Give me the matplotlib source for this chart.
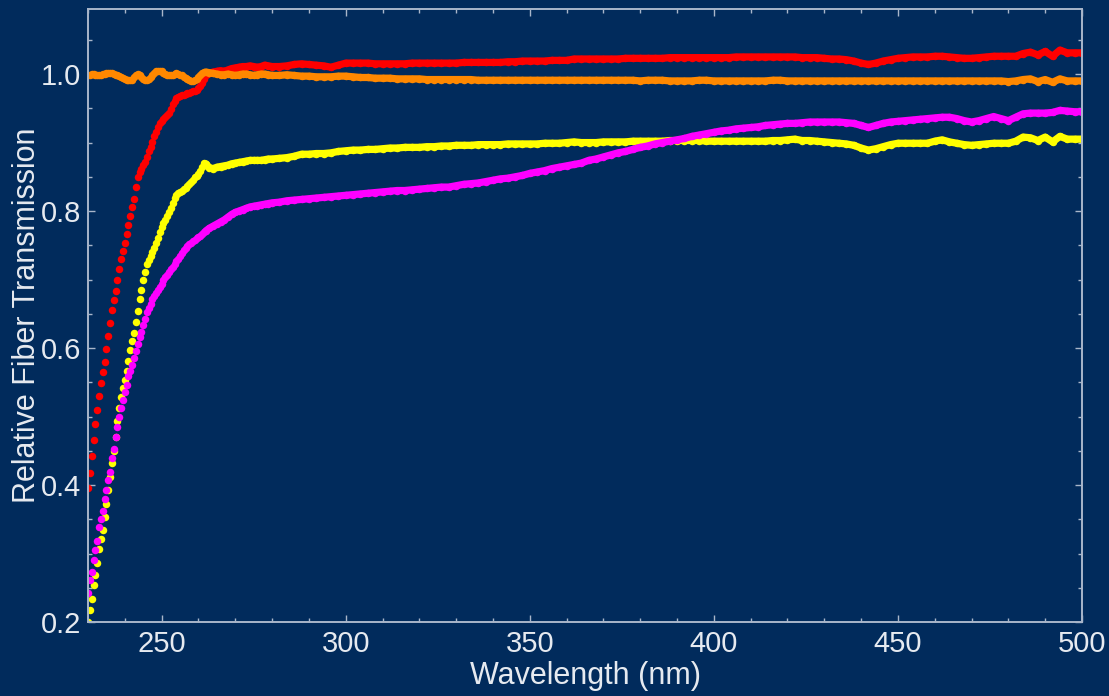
import numpy as np
import matplotlib
matplotlib.use("Agg")
import matplotlib.pyplot as plt
from matplotlib.ticker import MultipleLocator, FormatStrFormatter

# Wavelength sampling: 0.5 nm through the UV edge, then 1 nm, then 2 nm
wl_edge = np.arange(230.0, 262.01, 0.5)
wl_mid = np.arange(263.0, 280.01, 1.0)
wl_tail = np.arange(282.0, 500.01, 2.0)
wavelength = np.concatenate([wl_edge, wl_mid, wl_tail])

red = [
    0.395, 0.418, 0.442, 0.466, 0.489, 0.510, 0.530, 0.549, 0.565, 0.580,
    0.598, 0.618, 0.636, 0.655, 0.670, 0.684, 0.700, 0.715, 0.730, 0.741,
    0.753, 0.767, 0.780, 0.793, 0.806, 0.818, 0.835, 0.850, 0.857, 0.862,
    0.867, 0.872, 0.879, 0.887, 0.894, 0.901, 0.909, 0.916, 0.922, 0.928,
    0.932, 0.935, 0.938, 0.940, 0.943, 0.949, 0.956, 0.961, 0.965, 0.967,
    0.968, 0.969, 0.970, 0.971, 0.972, 0.973, 0.974, 0.975, 0.976, 0.977,
    0.979, 0.982, 0.987, 0.993, 0.998,
    1.001, 1.003, 1.004, 1.005, 1.004, 1.006, 1.008, 1.009, 1.010, 1.011,
    1.011, 1.012, 1.011, 1.010, 1.011, 1.013, 1.012, 1.011,
    1.011, 1.012, 1.014, 1.015, 1.014, 1.013, 1.012, 1.010, 1.013, 1.016,
    1.016, 1.016, 1.016, 1.015, 1.015, 1.015, 1.015, 1.015, 1.016, 1.016,
    1.016, 1.016, 1.016, 1.016, 1.016, 1.017, 1.017, 1.017, 1.017, 1.017,
    1.017, 1.018, 1.018, 1.019, 1.019, 1.019, 1.019, 1.020, 1.020, 1.020,
    1.022, 1.022, 1.022, 1.022, 1.022, 1.022, 1.022, 1.023, 1.023, 1.023,
    1.023, 1.023, 1.023, 1.024, 1.024, 1.024, 1.024, 1.024, 1.024, 1.024,
    1.024, 1.024, 1.025, 1.025, 1.025, 1.025, 1.025, 1.025, 1.025, 1.025,
    1.025, 1.024, 1.024, 1.024, 1.023, 1.022, 1.022, 1.021, 1.019, 1.016,
    1.014, 1.016, 1.019, 1.021, 1.023, 1.024, 1.025, 1.025, 1.025, 1.026,
    1.026, 1.025, 1.024, 1.023, 1.023, 1.024, 1.025, 1.026, 1.026, 1.026,
    1.026, 1.030, 1.032, 1.028, 1.033, 1.026, 1.035, 1.031, 1.031, 1.031,
]

orange = [
    0.999, 0.999, 1.000, 1.000, 0.999, 0.998, 0.998, 0.999, 1.000, 1.000,
    1.001, 1.001, 1.001, 1.001, 1.000, 0.999, 0.998, 0.997, 0.996, 0.994,
    0.993, 0.992, 0.991, 0.991, 0.992, 0.995, 0.998, 1.000, 0.999, 0.996,
    0.993, 0.991, 0.991, 0.993, 0.996, 0.999, 1.002, 1.004, 1.005, 1.005,
    1.004, 1.002, 1.000, 0.999, 0.998, 0.998, 0.999, 1.000, 1.001, 1.000,
    0.999, 0.998, 0.996, 0.994, 0.993, 0.991, 0.990, 0.990, 0.991, 0.993,
    0.996, 0.999, 1.001, 1.003, 1.003,
    1.002, 1.001, 1.000, 0.999, 0.999, 1.000, 0.999, 0.998, 0.999, 1.000,
    1.000, 0.999, 0.998, 0.999, 1.000, 1.000, 0.999, 0.998,
    0.998, 0.999, 0.998, 0.997, 0.997, 0.996, 0.996, 0.996, 0.997, 0.997,
    0.996, 0.995, 0.995, 0.994, 0.994, 0.994, 0.993, 0.993, 0.993, 0.993,
    0.992, 0.992, 0.992, 0.992, 0.992, 0.992, 0.992, 0.991, 0.991, 0.991,
    0.991, 0.991, 0.991, 0.991, 0.991, 0.991, 0.991, 0.991, 0.991, 0.991,
    0.991, 0.991, 0.991, 0.991, 0.991, 0.991, 0.991, 0.991, 0.991, 0.990,
    0.991, 0.991, 0.991, 0.990, 0.990, 0.990, 0.990, 0.991, 0.991, 0.990,
    0.990, 0.990, 0.990, 0.990, 0.990, 0.990, 0.990, 0.991, 0.991, 0.990,
    0.990, 0.990, 0.990, 0.990, 0.990, 0.990, 0.990, 0.990, 0.990, 0.990,
    0.990, 0.990, 0.990, 0.990, 0.990, 0.990, 0.990, 0.990, 0.990, 0.990,
    0.990, 0.990, 0.990, 0.990, 0.990, 0.990, 0.990, 0.990, 0.990, 0.989,
    0.990, 0.992, 0.993, 0.989, 0.992, 0.988, 0.993, 0.990, 0.990, 0.990,
]

yellow = [
    0.200, 0.218, 0.234, 0.254, 0.268, 0.286, 0.306, 0.321, 0.335, 0.354,
    0.372, 0.393, 0.412, 0.432, 0.450, 0.470, 0.494, 0.512, 0.529, 0.542,
    0.554, 0.567, 0.581, 0.597, 0.610, 0.622, 0.638, 0.654, 0.671, 0.685,
    0.699, 0.711, 0.722, 0.729, 0.735, 0.740, 0.746, 0.753, 0.760, 0.769,
    0.777, 0.782, 0.787, 0.793, 0.799, 0.805, 0.812, 0.819, 0.823, 0.826,
    0.828, 0.830, 0.832, 0.834, 0.837, 0.840, 0.843, 0.846, 0.849, 0.851,
    0.854, 0.858, 0.864, 0.870, 0.869,
    0.863, 0.862, 0.864, 0.865, 0.866, 0.867, 0.869, 0.870, 0.871, 0.872,
    0.873, 0.874, 0.874, 0.874, 0.874, 0.875, 0.876, 0.876,
    0.877, 0.878, 0.880, 0.883, 0.883, 0.884, 0.884, 0.885, 0.887, 0.888,
    0.889, 0.889, 0.890, 0.890, 0.891, 0.892, 0.892, 0.893, 0.893, 0.893,
    0.894, 0.894, 0.895, 0.895, 0.896, 0.896, 0.896, 0.897, 0.897, 0.897,
    0.897, 0.898, 0.898, 0.898, 0.898, 0.898, 0.899, 0.899, 0.899, 0.900,
    0.901, 0.900, 0.900, 0.900, 0.901, 0.901, 0.901, 0.901, 0.902, 0.902,
    0.902, 0.902, 0.902, 0.903, 0.903, 0.903, 0.903, 0.903, 0.902, 0.902,
    0.902, 0.902, 0.902, 0.902, 0.902, 0.902, 0.902, 0.903, 0.903, 0.904,
    0.905, 0.903, 0.903, 0.902, 0.901, 0.900, 0.899, 0.898, 0.896, 0.892,
    0.889, 0.891, 0.894, 0.897, 0.899, 0.899, 0.899, 0.899, 0.899, 0.902,
    0.904, 0.901, 0.899, 0.897, 0.896, 0.897, 0.898, 0.899, 0.899, 0.899,
    0.902, 0.908, 0.907, 0.903, 0.908, 0.901, 0.909, 0.905, 0.905, 0.905,
]

magenta = [
    0.242, 0.261, 0.273, 0.290, 0.305, 0.318, 0.338, 0.351, 0.362, 0.379,
    0.393, 0.407, 0.419, 0.439, 0.453, 0.470, 0.484, 0.499, 0.512, 0.524,
    0.536, 0.546, 0.559, 0.567, 0.575, 0.585, 0.596, 0.606, 0.616, 0.624,
    0.633, 0.642, 0.652, 0.659, 0.665, 0.671, 0.676, 0.681, 0.685, 0.689,
    0.694, 0.699, 0.703, 0.707, 0.711, 0.715, 0.719, 0.723, 0.727, 0.730,
    0.735, 0.739, 0.743, 0.746, 0.749, 0.752, 0.754, 0.756, 0.758, 0.760,
    0.762, 0.764, 0.767, 0.769, 0.771,
    0.775, 0.778, 0.781, 0.784, 0.787, 0.791, 0.795, 0.798, 0.800, 0.802,
    0.804, 0.806, 0.807, 0.808, 0.809, 0.810, 0.811, 0.812,
    0.813, 0.815, 0.816, 0.817, 0.818, 0.819, 0.820, 0.821, 0.822, 0.823,
    0.824, 0.825, 0.826, 0.827, 0.828, 0.829, 0.830, 0.830, 0.831, 0.832,
    0.833, 0.834, 0.835, 0.835, 0.837, 0.839, 0.840, 0.841, 0.843, 0.845,
    0.847, 0.848, 0.850, 0.852, 0.855, 0.857, 0.859, 0.862, 0.864, 0.866,
    0.868, 0.870, 0.874, 0.876, 0.879, 0.882, 0.885, 0.887, 0.890, 0.893,
    0.895, 0.898, 0.900, 0.902, 0.904, 0.906, 0.909, 0.911, 0.913, 0.915,
    0.917, 0.918, 0.920, 0.921, 0.922, 0.923, 0.925, 0.926, 0.927, 0.928,
    0.928, 0.929, 0.930, 0.930, 0.930, 0.930, 0.930, 0.929, 0.928, 0.925,
    0.922, 0.925, 0.928, 0.930, 0.931, 0.932, 0.933, 0.934, 0.935, 0.936,
    0.937, 0.937, 0.935, 0.932, 0.930, 0.932, 0.935, 0.938, 0.935, 0.932,
    0.937, 0.942, 0.943, 0.943, 0.943, 0.944, 0.947, 0.946, 0.945, 0.945,
]

series = [
    (red, "#ff0000"),
    (orange, "#ff8800"),
    (yellow, "#ffff00"),
    (magenta, "#ff00ff"),
]

bg = "#012b5c"
frame = "#a9b6ca"
text_c = "#e6eaf0"

plt.rcParams["font.family"] = ["Liberation Sans", "DejaVu Sans"]

fig = plt.figure(figsize=(11.09, 6.96), dpi=100, facecolor=bg)
ax = fig.add_axes([88 / 1109, 74 / 696, 994 / 1109, 613 / 696])
ax.set_facecolor(bg)

# beyond the absorption edge the samples are sparser, so join them into a
# continuous trace of the same width as the dots
dense = wavelength >= 262
for values, color in series:
    v = np.asarray(values)
    ax.plot(wavelength[dense], v[dense], linestyle="-", linewidth=5.2,
            solid_capstyle="round", solid_joinstyle="round", color=color)
    ax.plot(wavelength, v, linestyle="none", marker="o",
            markersize=5.4, markeredgewidth=0, color=color)

ax.set_xlim(230, 500)
ax.set_ylim(0.2, 1.095)

ax.xaxis.set_major_locator(MultipleLocator(50))
ax.xaxis.set_minor_locator(MultipleLocator(10))
ax.yaxis.set_major_locator(MultipleLocator(0.2))
ax.yaxis.set_minor_locator(MultipleLocator(0.05))
ax.yaxis.set_major_formatter(FormatStrFormatter("%.1f"))

for s in ax.spines.values():
    s.set_color(frame)
    s.set_linewidth(1.4)

ax.tick_params(which="both", direction="in", top=True, right=True,
               color=frame, labelcolor=text_c, labelsize=21)
ax.tick_params(which="major", length=5, width=1.0)
ax.tick_params(which="minor", length=3, width=1.0)
ax.tick_params(axis="x", which="major", pad=6)
ax.tick_params(axis="y", which="major", pad=5)

ax.set_xlabel("Wavelength (nm)", fontsize=22, color=text_c, labelpad=2)
ax.set_ylabel("Relative Fiber Transmission", fontsize=22, color=text_c)
ax.yaxis.set_label_coords(-0.046, 0.5)

fig.savefig("out.png", dpi=100, facecolor=bg)
